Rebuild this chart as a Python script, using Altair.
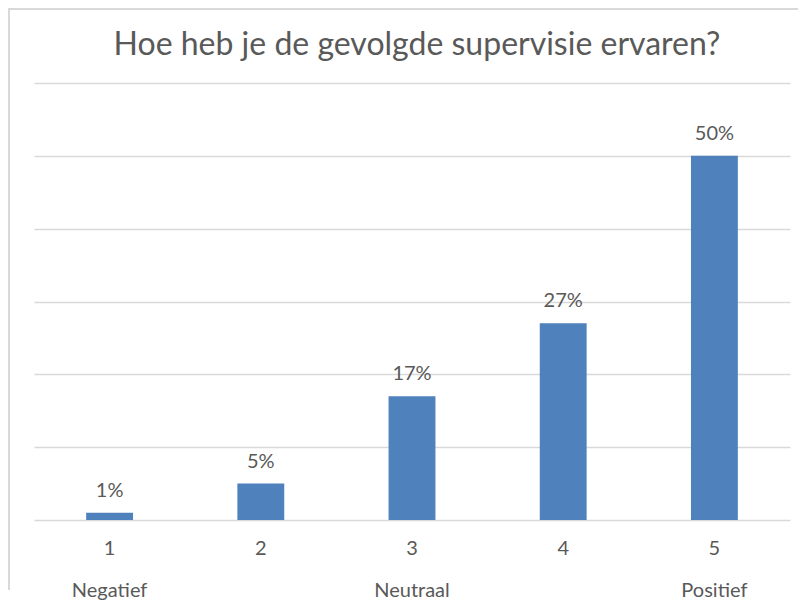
import altair as alt
import pandas as pd

categories = ["1", "2", "3", "4", "5"]
values = [1, 5, 17, 27, 50]
sublabels = ["Negatief", "", "Neutraal", "", "Positief"]
title_text = "Hoe heb je de gevolgde supervisie ervaren?"

df = pd.DataFrame({
    "cat": categories,
    "value": values,
    "label": [f"{v}%" for v in values],
    "sub": sublabels,
})

FONT = "Lato"
GRAY = "#595959"
GRID = "#d9d9d9"
BLUE = "#4f81bd"
W, H = 756, 437

x = alt.X("cat:N", sort=categories, title=None,
          scale=alt.Scale(paddingInner=0.69, paddingOuter=0.345),
          axis=alt.Axis(labelAngle=0, labelFont=FONT, labelFontSize=20,
                        labelColor=GRAY, labelPadding=18, ticks=False,
                        domain=False, grid=False))
y = alt.Y("value:Q", title=None,
          scale=alt.Scale(domain=[0, 60], nice=False),
          axis=alt.Axis(values=[0, 10, 20, 30, 40, 50, 60], labels=False,
                        ticks=False, domain=False, grid=True,
                        gridColor=GRID, gridWidth=1.5))

base = alt.Chart(df)
bars = base.mark_bar(color=BLUE).encode(x=x, y=y)
labels = base.mark_text(font=FONT, fontSize=20, color=GRAY,
                        baseline="bottom", dy=-12).encode(
    x=alt.X("cat:N", sort=categories), y="value:Q", text="label:N")
subs = base.mark_text(font=FONT, fontSize=20, color=GRAY,
                      baseline="middle").encode(
    x=alt.X("cat:N", sort=categories), y=alt.value(H + 71), text="sub:N")

title_df = pd.DataFrame({"t": [title_text]})
title = alt.Chart(title_df).mark_text(font=FONT, fontSize=32, color=GRAY,
                                      baseline="middle").encode(
    x=alt.value(W / 2 + 5), y=alt.value(-38), text="t:N")

frame_left = alt.Chart(title_df).mark_rule(color=GRID, strokeWidth=2).encode(
    x=alt.value(-25), y=alt.value(-75), y2=alt.value(H + 70))
frame_top = alt.Chart(title_df).mark_rule(color=GRID, strokeWidth=2).encode(
    x=alt.value(-26), x2=alt.value(W + 8), y=alt.value(-74))

chart = alt.layer(bars, labels, subs, title, frame_left, frame_top).properties(
    width=W, height=H,
    autosize=alt.AutoSizeParams(type="none"),
    padding={"left": 26, "top": 75, "right": 8, "bottom": 80},
    background="white",
).configure_view(stroke=None)

chart.save("out.html", embed_options={"renderer": "svg", "actions": False})
